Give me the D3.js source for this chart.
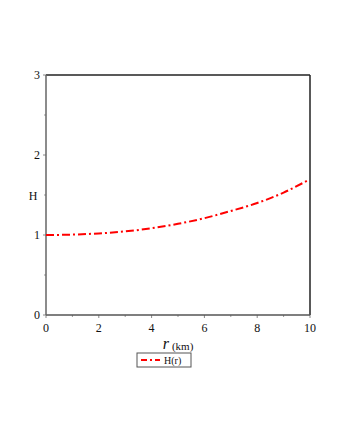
<!DOCTYPE html>
<html>
<head>
<meta charset="utf-8">
<script src="https://cdn.jsdelivr.net/npm/d3@7"></script>
<style>
  body { margin:0; background:#fff; }
  text { font-family:"Liberation Serif","DejaVu Serif",serif; fill:#111; }
</style>
</head>
<body>
<div id="chart"></div>
<script>
// values
var rValues = [0, 1, 2, 3, 4, 5, 6, 7, 8, 9, 9.9];
var hValues = [1.0, 1.005, 1.02, 1.045, 1.085, 1.14, 1.21, 1.3, 1.4, 1.53, 1.68];
var xTicks = [0, 2, 4, 6, 8, 10];
var yTicks = [0, 1, 2, 3];
var seriesName = 'H(r)';

var width = 340, height = 440;
var margin = {t:75, r:30, b:125, l:46};
var plotWidth = 310 - margin.l,
    plotHeight = 315 - margin.t;

var svg = d3.select('#chart').append('svg')
    .attr('width', width)
    .attr('height', height);

var x = d3.scaleLinear().domain([0, 10]).range([margin.l, margin.l + plotWidth]);
var y = d3.scaleLinear().domain([0, 3]).range([margin.t + plotHeight, margin.t]);

// minor ticks
var xMinor = d3.range(1, 10, 2), yMinor = d3.range(0.5, 3, 1);
svg.selectAll('.xminor').data(xMinor).enter().append('line')
    .attr('x1', function(d){ return x(d); }).attr('x2', function(d){ return x(d); })
    .attr('y1', y(0)).attr('y2', y(0) + 2)
    .style('stroke', '#999').style('stroke-width', 1);
svg.selectAll('.yminor').data(yMinor).enter().append('line')
    .attr('x1', x(0) - 2).attr('x2', x(0))
    .attr('y1', function(d){ return y(d); }).attr('y2', function(d){ return y(d); })
    .style('stroke', '#999').style('stroke-width', 1);

// major ticks + labels
svg.selectAll('.xtick').data(xTicks).enter().append('line')
    .attr('x1', function(d){ return x(d); }).attr('x2', function(d){ return x(d); })
    .attr('y1', y(0)).attr('y2', y(0) + 3)
    .style('stroke', '#888').style('stroke-width', 1);
svg.selectAll('.xlab').data(xTicks).enter().append('text')
    .attr('x', function(d){ return x(d); })
    .attr('y', y(0) + 17)
    .attr('text-anchor', 'middle')
    .style('font-size', '12px')
    .text(function(d){ return d; });

svg.selectAll('.ytick').data(yTicks).enter().append('line')
    .attr('x1', x(0) - 3).attr('x2', x(0))
    .attr('y1', function(d){ return y(d); }).attr('y2', function(d){ return y(d); })
    .style('stroke', '#888').style('stroke-width', 1);
svg.selectAll('.ylab').data(yTicks).enter().append('text')
    .attr('x', x(0) - 6)
    .attr('y', function(d){ return y(d) + 4; })
    .attr('text-anchor', 'end')
    .style('font-size', '12px')
    .text(function(d){ return d; });

// frame
svg.append('line').attr('x1', x(0)).attr('x2', x(10)).attr('y1', y(3)).attr('y2', y(3))
    .style('stroke', '#222').style('stroke-width', 1.5);
svg.append('line').attr('x1', x(10)).attr('x2', x(10)).attr('y1', y(3)).attr('y2', y(0))
    .style('stroke', '#222').style('stroke-width', 1.5);
svg.append('line').attr('x1', x(0)).attr('x2', x(10)).attr('y1', y(0)).attr('y2', y(0))
    .style('stroke', '#555').style('stroke-width', 1.5);
svg.append('line').attr('x1', x(0)).attr('x2', x(0)).attr('y1', y(3)).attr('y2', y(0))
    .style('stroke', '#666').style('stroke-width', 1.5);

// curve
var line = d3.line()
    .x(function(d, i){ return x(rValues[i]); })
    .y(function(d){ return y(d); })
    .curve(d3.curveMonotoneX);
svg.append('path')
    .datum(hValues)
    .attr('d', line)
    .style('fill', 'none')
    .style('stroke', '#f00')
    .style('stroke-width', 2)
    .style('stroke-dasharray', '8,3,2,3');

// axis titles
svg.append('text')
    .attr('x', 33).attr('y', 200)
    .attr('text-anchor', 'middle')
    .style('font-size', '12px')
    .text('H');
var xt = svg.append('text')
    .attr('x', 178).attr('y', 349)
    .attr('text-anchor', 'middle');
xt.append('tspan').style('font-size', '16px').style('font-style', 'italic').text('r');
xt.append('tspan').attr('dx', 3).attr('dy', 1).style('font-size', '11px').text('(km)');

// legend
var lg = svg.append('g');
lg.append('rect')
    .attr('x', 137).attr('y', 353).attr('width', 54).attr('height', 14)
    .style('fill', '#fff').style('stroke', '#555').style('stroke-width', 1);
lg.append('line')
    .attr('x1', 141).attr('x2', 160).attr('y1', 360).attr('y2', 360)
    .style('stroke', '#f00').style('stroke-width', 2)
    .style('stroke-dasharray', '6,3,2,3');
lg.append('text')
    .attr('x', 164).attr('y', 364)
    .style('font-size', '10px')
    .text(seriesName);
</script>
</body>
</html>
